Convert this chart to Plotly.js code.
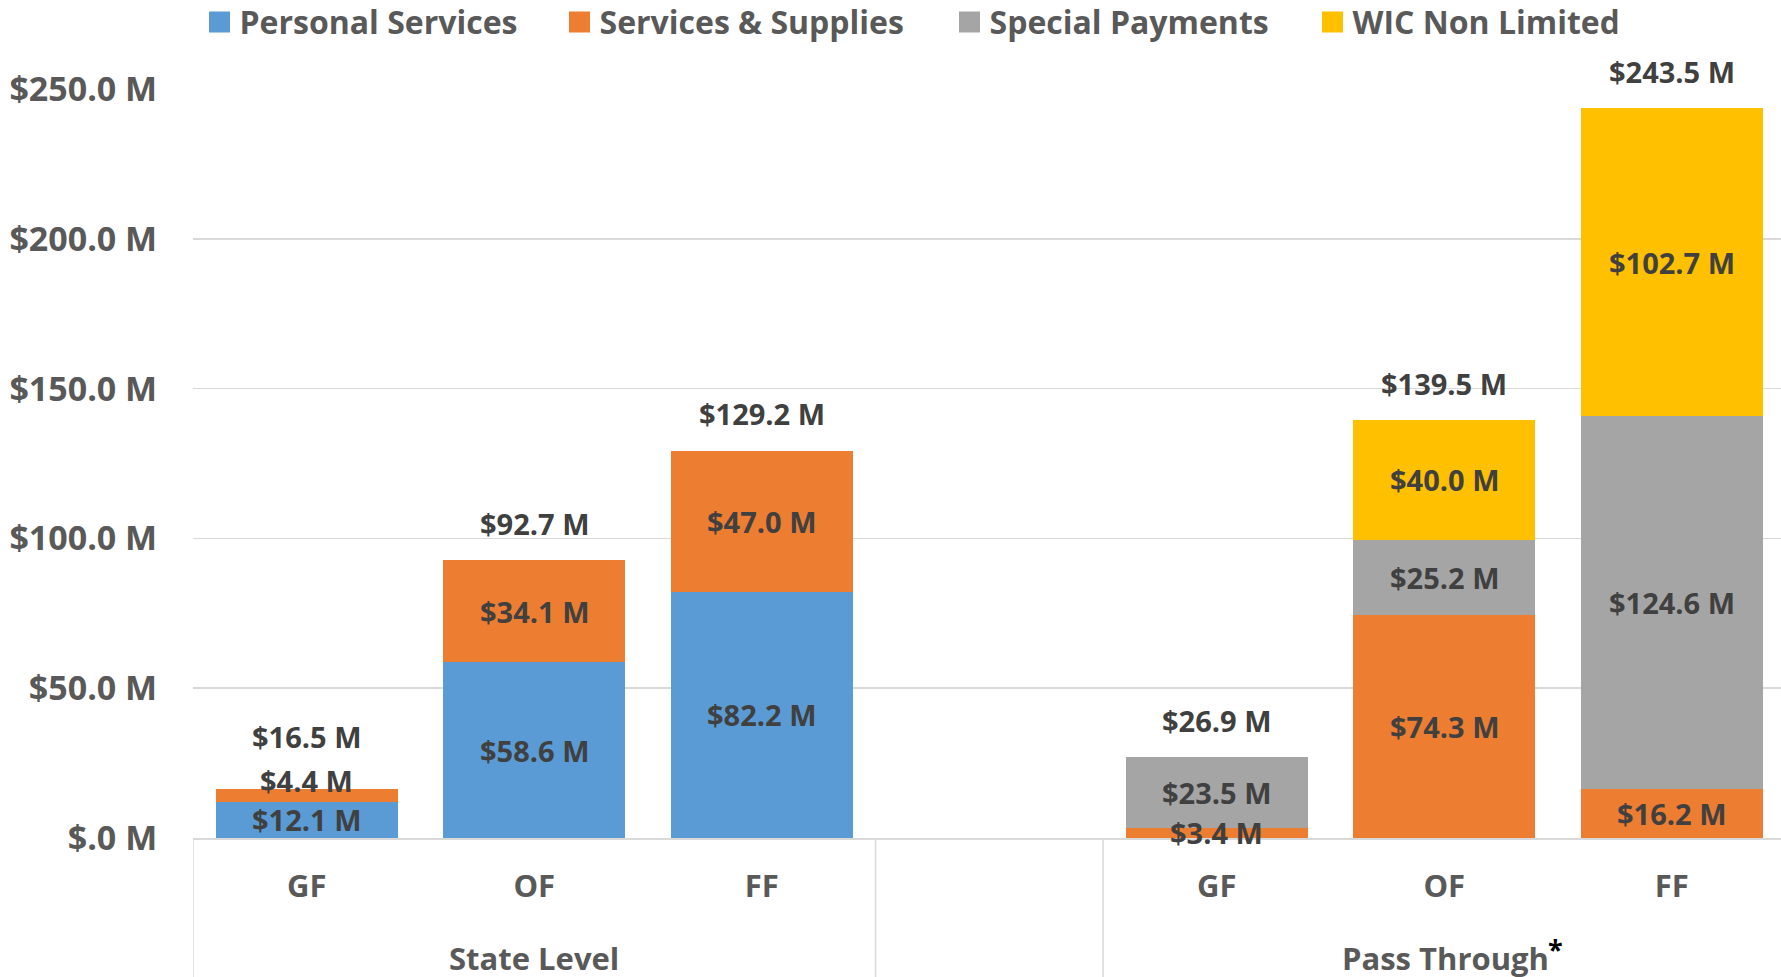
<!DOCTYPE html>
<html>
<head>
<meta charset="utf-8">
<script src="https://cdn.plot.ly/plotly-3.0.1.min.js"></script>
<style>html,body{margin:0;padding:0;background:#fff;}#chart{width:1781px;height:977px;}</style>
</head>
<body>
<div id="chart"></div>
<script>
// ---- data ----
var categories = ["GF", "OF", "FF", "", "GF", "OF", "FF"];
var groups = ["State Level", "Pass Through"];
var groupNote = "*";
var personalServices = [12.1, 58.6, 82.2, null, null, null, null];
var servicesSupplies = [4.4, 34.1, 47.0, null, 3.4, 74.3, 16.2];
var specialPayments = [null, null, null, null, 23.5, 25.2, 124.6];
var wicNonLimited = [null, null, null, null, null, 40.0, 102.7];
var totals = [16.5, 92.7, 129.2, null, 26.9, 139.5, 243.5];
var yTickVals = [0, 50, 100, 150, 200, 250];
var yTickText = ["$.0 M", "$50.0 M", "$100.0 M", "$150.0 M", "$200.0 M", "$250.0 M"];

var seriesNames = ["Personal Services", "Services & Supplies", "Special Payments", "WIC Non Limited"];
var seriesColors = ["#5B9BD5", "#ED7D31", "#A5A5A5", "#FFC000"];
var seriesValues = [personalServices, servicesSupplies, specialPayments, wicNonLimited];
var legendWidths = [315, 345, 318, 260];

var FONT = "Open Sans, Noto Sans, sans-serif";
var xIdx = categories.map(function (c, i) { return i; });
var tickIdx = xIdx.filter(function (i) { return categories[i] !== ""; });
var tickLbl = tickIdx.map(function (i) { return categories[i]; });

var traces = [];
seriesValues.forEach(function (vals, s) {
  traces.push({
    type: "bar", x: xIdx, y: vals, name: seriesNames[s],
    marker: { color: seriesColors[s], line: { width: 0 } },
    showlegend: false, hoverinfo: "y+name", legendgroup: "g" + s
  });
});
// legend entries (no data) with a larger square symbol
seriesValues.forEach(function (vals, s) {
  traces.push({
    type: "scatter", mode: "markers", x: [null], y: [null], name: seriesNames[s],
    marker: { color: seriesColors[s], symbol: "square", size: 16, line: { color: seriesColors[s], width: 5 } },
    showlegend: true, legendgroup: "g" + s, legendwidth: legendWidths[s], hoverinfo: "skip"
  });
});

function fmt(v) { return "$" + v.toFixed(1) + " M"; }

var annotations = [];
var base = categories.map(function () { return 0; });
seriesValues.forEach(function (vals, s) {
  vals.forEach(function (v, i) {
    if (v === null) return;
    var shift = (s === 1 && i === 0) ? 15 : 0;
    annotations.push({
      x: i, y: base[i] + v / 2, xref: "x", yref: "y", text: fmt(v), showarrow: false,
      yanchor: "middle", xanchor: "center", yshift: shift,
      font: { family: FONT, size: 29, color: "#404040", weight: 700 }
    });
    base[i] += v;
  });
});
totals.forEach(function (t, i) {
  if (t === null) return;
  annotations.push({
    x: i, y: t, xref: "x", yref: "y", text: fmt(t), showarrow: false,
    yanchor: "middle", xanchor: "center", yshift: (i === 0 ? 52 : 37),
    font: { family: FONT, size: 29, color: "#404040", weight: 700 }
  });
});
// group labels
annotations.push({
  x: 1, y: -0.160, xref: "x", yref: "paper", text: groups[0], showarrow: false,
  yanchor: "middle", xanchor: "center",
  font: { family: FONT, size: 31, color: "#595959", weight: 700 }
});
annotations.push({
  x: 5, y: -0.160, xref: "x", yref: "paper", xshift: 1,
  text: groups[1], showarrow: false,
  yanchor: "middle", xanchor: "center",
  font: { family: FONT, size: 31, color: "#595959", weight: 700 }
});
annotations.push({
  x: 5, y: -0.147, xref: "x", yref: "paper", xshift: 111,
  text: groupNote, showarrow: false,
  yanchor: "middle", xanchor: "center",
  font: { family: FONT, size: 27, color: "#000000", weight: 700 }
});

var shapes = [-0.5, 2.5, 3.5].map(function (xv) {
  return { type: "line", xref: "x", yref: "paper", x0: xv, x1: xv, y0: 0, y1: -0.2,
    line: { color: "#D9D9D9", width: 1.5 } };
});

var layout = {
  width: 1781, height: 977,
  margin: { l: 193, r: 0, t: 89, b: 139, autoexpand: false },
  paper_bgcolor: "#FFFFFF", plot_bgcolor: "#FFFFFF",
  barmode: "stack", bargap: 0.2,
  showlegend: true,
  legend: {
    orientation: "h", x: 0.0041, xanchor: "left", y: 1.126, yanchor: "top",
    traceorder: "normal", font: { family: FONT, size: 32, color: "#595959", weight: 700 },
    bgcolor: "rgba(0,0,0,0)"
  },
  xaxis: {
    range: [-0.5, 6.48], tickvals: tickIdx, ticktext: tickLbl, automargin: false,
    showgrid: false, zeroline: false, showline: true, linecolor: "#D9D9D9", linewidth: 1.5,
    ticks: "outside", ticklen: 20, tickcolor: "rgba(0,0,0,0)",
    tickfont: { family: FONT, size: 31, color: "#595959", weight: 700 },
    fixedrange: true
  },
  yaxis: {
    range: [0, 250], tickvals: yTickVals, ticktext: yTickText, automargin: false,
    showgrid: true, gridcolor: "#D9D9D9", gridwidth: 1.5, zeroline: false, showline: false,
    ticks: "outside", ticklen: 28, tickcolor: "rgba(0,0,0,0)",
    tickfont: { family: FONT, size: 34, color: "#595959", weight: 700 },
    fixedrange: true
  },
  annotations: annotations,
  shapes: shapes
};

Plotly.newPlot("chart", traces, layout, { displayModeBar: false, staticPlot: true });
</script>
</body>
</html>
